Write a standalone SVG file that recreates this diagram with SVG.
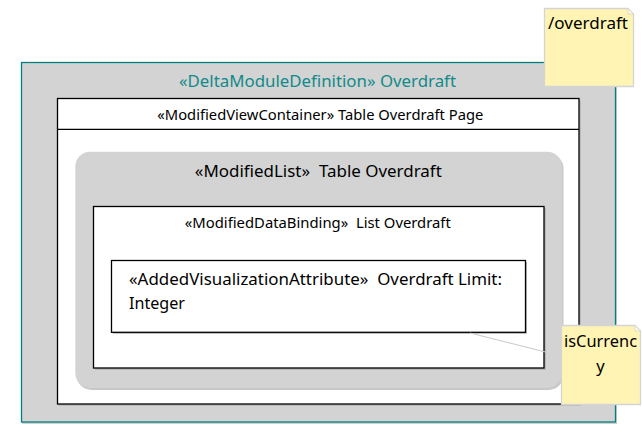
<svg xmlns="http://www.w3.org/2000/svg" width="642" height="439" viewBox="0 0 642 439">
<style>
text{font-family:"Noto Sans","Open Sans","DejaVu Sans",sans-serif;fill:#000;white-space:pre}
.box{fill:#fff;stroke:#000;stroke-width:1.3}
.gray{fill:#d3d3d3}
.shadow{fill:#b0b0b0}
.note{fill:#fff4b4;stroke:#d4d4d4;stroke-width:1.3}
.fold{fill:#fffbe0;stroke:#d4d4d4;stroke-width:0.8}
.conn{stroke:#c8c8c8;stroke-width:1;fill:none}
.c{text-anchor:middle}
</style>
<g id="delta-module">
<rect x="22" y="64" width="595" height="360" class="shadow" opacity="0.6"/>
<rect x="21.5" y="62.5" width="594" height="359.5" fill="#d3d3d3" stroke="#008080" stroke-width="1.3"/>
<text x="317.5" y="86.7" class="c" font-size="16.5" style="fill:#108a8a" textLength="277" lengthAdjust="spacingAndGlyphs">«DeltaModuleDefinition» Overdraft</text>
</g>
<g id="view-container">
<rect x="59" y="100" width="522" height="306" class="shadow" opacity="0.7"/>
<rect x="57.5" y="98.5" width="521.5" height="305.5" class="box"/>
<line x1="57.5" y1="129.3" x2="579" y2="129.3" stroke="#000" stroke-width="1.3"/>
<text x="320.3" y="120" class="c" font-size="14" textLength="326" lengthAdjust="spacingAndGlyphs">«ModifiedViewContainer» Table Overdraft Page</text>
</g>
<g id="modified-list">
<rect x="76.5" y="153.5" width="487" height="236.5" rx="15" class="shadow" opacity="0.7"/>
<rect x="75.3" y="151.7" width="486.7" height="236.3" rx="15" class="gray"/>
<text x="318.3" y="176.7" class="c" font-size="16.5" textLength="247" lengthAdjust="spacingAndGlyphs" xml:space="preserve">«ModifiedList»  Table Overdraft</text>
</g>
<g id="data-binding">
<rect x="95" y="208" width="451" height="162" class="shadow" opacity="0.8"/>
<rect x="93.5" y="206.5" width="450.5" height="161.5" class="box"/>
<text x="317.8" y="227.7" class="c" font-size="14" textLength="266" lengthAdjust="spacingAndGlyphs" xml:space="preserve">«ModifiedDataBinding»  List Overdraft</text>
</g>
<g id="visualization-attribute">
<rect x="113" y="262" width="414" height="72" class="shadow" opacity="0.8"/>
<rect x="111.5" y="260.5" width="414" height="71.8" class="box"/>
<text x="129" y="285" font-size="16.5" textLength="373" lengthAdjust="spacingAndGlyphs" xml:space="preserve">«AddedVisualizationAttribute»  Overdraft Limit:</text>
<text x="129" y="309.3" font-size="16.5" textLength="56" lengthAdjust="spacingAndGlyphs">Integer</text>
</g>
<g id="connectors">
<line x1="470" y1="333" x2="545.5" y2="352" class="conn"/>
</g>
<g id="note-overdraft">
<path d="M544.5 8.5 H628 L633.5 14 V86.5 H544.5 Z" class="note"/>
<path d="M628 8.5 L633.5 14 H628 Z" class="fold"/>
<text x="548" y="28.5" font-size="16.5" textLength="80" lengthAdjust="spacingAndGlyphs">/overdraft</text>
</g>
<g id="note-iscurrency">
<path d="M561.5 325.5 H635 L640.5 331 V404.5 H561.5 Z" class="note"/>
<path d="M635 325.5 L640.5 331 H635 Z" class="fold"/>
<text x="600.5" y="347" class="c" font-size="16.5" textLength="73" lengthAdjust="spacingAndGlyphs">isCurrenc</text>
<text x="600.5" y="372" class="c" font-size="16.5">y</text>
</g>
</svg>
